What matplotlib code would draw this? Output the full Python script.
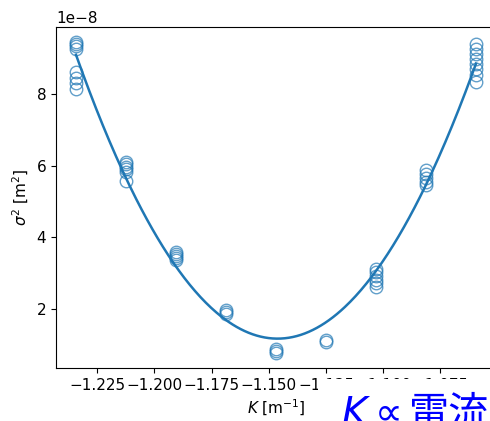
import numpy as np
import matplotlib
matplotlib.use("Agg")
import matplotlib.pyplot as plt
from matplotlib.patches import Rectangle

k_vals = [-1.2343, -1.2124, -1.1905, -1.1688, -1.1469, -1.1251, -1.1032, -1.0813, -1.0594]
sig2 = [
    [9.43, 9.38, 9.32, 9.26, 8.62, 8.45, 8.29, 8.13],
    [6.11, 6.04, 5.97, 5.90, 5.83, 5.56],
    [3.60, 3.54, 3.48, 3.42, 3.36],
    [1.98, 1.92, 1.86],
    [0.88, 0.83, 0.79],
    [1.13, 1.08],
    [3.11, 3.02, 2.92, 2.82, 2.72, 2.62],
    [5.89, 5.76, 5.64, 5.54, 5.46],
    [9.40, 9.25, 9.10, 8.96, 8.82, 8.68, 8.52, 8.34],
]

x = np.concatenate([[k] * len(s) for k, s in zip(k_vals, sig2)])
y = np.concatenate(sig2) * 1e-8

plt.rcParams["font.size"] = 11
fig = plt.figure(figsize=(4.9, 4.21), dpi=100)
ax = fig.add_axes([56 / 490, 1 - 368 / 421, 440 / 490, 341 / 421])

ax.plot(x, y, "o", mfc="none", mec="C0", ms=9, alpha=0.7)
c = np.polyfit(x, y, 2)
xf = np.linspace(min(k_vals), max(k_vals), 300)
ax.plot(xf, np.polyval(c, xf), color="C0", lw=1.8)

ax.set_xlabel(r"$K$ [m$^{-1}$]")
ax.set_ylabel(r"$\sigma^2$ [m$^2$]")

# white backing box that hides part of the tick labels, as in the original
fig.patches.append(Rectangle((318 / 490, 0), 1, 1 - 379 / 421, transform=fig.transFigure,
                             facecolor="white", edgecolor="none", zorder=2))

# annotation: math part and CJK part as two texts sharing a baseline
base = -0.0105
t1 = fig.text(341 / 490, base, r"$K \propto$", fontsize=28, color="blue",
              ha="left", va="baseline", zorder=3)
fig.canvas.draw()
ext = t1.get_window_extent()
fig.text(ext.x1 / fig.bbox.width + 0.018, base, "電流", fontsize=29, color="blue",
         family=["Noto Sans CJK JP", "DejaVu Sans"], ha="left", va="baseline", zorder=3)

fig.savefig("out.png", dpi=100)
